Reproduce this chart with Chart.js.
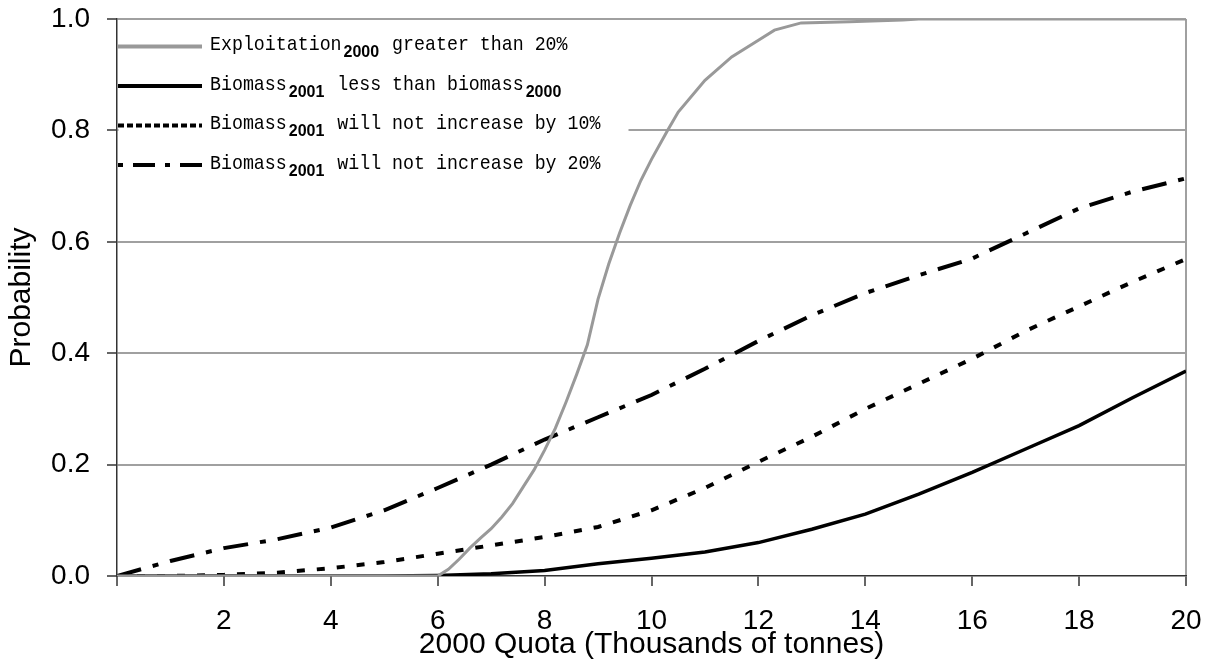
<!DOCTYPE html>
<html><head><meta charset="utf-8">
<script src="https://cdn.jsdelivr.net/npm/chart.js@4.4.1/dist/chart.umd.min.js"></script>
<style>html,body{margin:0;padding:0;background:#fff;}</style>
</head><body>
<canvas id="c" width="1211" height="665"></canvas>
<script>
// ---- data ----
const exploitX = [0, 6, 6.2, 6.4, 6.6, 6.8, 7.0, 7.2, 7.4, 7.6, 7.8, 8.0, 8.2, 8.4, 8.6, 8.8, 9.0, 9.2, 9.4, 9.6, 9.8, 10.0, 10.3, 10.5, 11.0, 11.5, 12.0, 12.3, 12.8, 13.7, 14.7, 15, 20];
const exploitY = [0, 0, 0.012, 0.03, 0.05, 0.068, 0.085, 0.106, 0.13, 0.16, 0.19, 0.226, 0.265, 0.312, 0.362, 0.415, 0.497, 0.56, 0.615, 0.665, 0.71, 0.748, 0.8, 0.833, 0.89, 0.932, 0.962, 0.98, 0.993, 0.995, 0.998, 1.0, 1.0];
const quota = [0,1,2,3,4,5,6,7,8,9,10,11,12,13,14,15,16,17,18,19,20];
const lessThan2000 = [0, 0, 0, 0, 0, 0, 0.001, 0.004, 0.01, 0.022, 0.032, 0.043, 0.06, 0.084, 0.111, 0.147, 0.186, 0.228, 0.27, 0.32, 0.368];
const noIncrease10 = [0, 0, 0.002, 0.006, 0.014, 0.025, 0.04, 0.055, 0.07, 0.088, 0.118, 0.158, 0.205, 0.25, 0.3, 0.345, 0.39, 0.44, 0.484, 0.528, 0.569];
const noIncrease20 = [0, 0.027, 0.05, 0.066, 0.087, 0.118, 0.158, 0.2, 0.245, 0.285, 0.325, 0.372, 0.422, 0.468, 0.508, 0.54, 0.57, 0.615, 0.66, 0.69, 0.714];
const seriesLabels = [
  "Exploitation_{2000} greater than 20%",
  "Biomass_{2001} less than biomass_{2000}",
  "Biomass_{2001} will not increase by 10%",
  "Biomass_{2001} will not increase by 20%"
];
const xTicks = [2,4,6,8,10,12,14,16,18,20];
const yTicks = [0, 0.2, 0.4, 0.6, 0.8, 1.0];
const xTitle = "2000 Quota (Thousands of tonnes)";
const yTitle = "Probability";

const pts = (xs, ys) => xs.map((x, i) => ({x: x, y: ys[i]}));
const plain = s => s.replace(/_\{([^}]*)\}/g, '$1');

const styles = [
  {color: '#999999', width: 3, dash: [], legendDash: [], legendWidth: 4},
  {color: '#000000', width: 3.5, dash: [], legendDash: [], legendWidth: 4},
  {color: '#000000', width: 4, dash: [8, 12], legendDash: [6, 3], legendWidth: 4},
  {color: '#000000', width: 4, dash: [25, 12, 6, 12], legendDash: [22, 10, 5, 10], legendDashOffset: 32, legendWidth: 4}
];
const seriesData = [pts(exploitX, exploitY), pts(quota, lessThan2000), pts(quota, noIncrease10), pts(quota, noIncrease20)];

const insetLegend = {
  id: 'insetLegend',
  beforeDatasetsDraw(chart) {
    const ctx = chart.ctx;
    const area = chart.chartArea;
    ctx.save();
    ctx.fillStyle = '#ffffff';
    ctx.fillRect(area.left + 1.5, area.top + 2, 510, 165);
    seriesLabels.forEach((lab, i) => {
      const st = styles[i];
      const y = 46.5 + i * 39.5;
      ctx.beginPath();
      ctx.strokeStyle = st.color;
      ctx.lineWidth = st.legendWidth;
      ctx.lineCap = 'butt';
      ctx.setLineDash(st.legendDash);
      ctx.lineDashOffset = st.legendDashOffset || 0;
      ctx.moveTo(area.left + 1, y);
      ctx.lineTo(202, y);
      ctx.stroke();
      ctx.setLineDash([]);
      const parts = lab.split(/(_\{[^}]*\})/).filter(p => p.length);
      let x = 210;
      const base = y + 3.5;
      ctx.fillStyle = '#000';
      ctx.textBaseline = 'alphabetic';
      ctx.textAlign = 'left';
      parts.forEach(p => {
        if (p.startsWith('_{')) {
          const t = p.slice(2, -1);
          ctx.font = 'bold 16px "Liberation Sans", Arial, sans-serif';
          ctx.fillText(t, x + 2, base + 7);
          x += ctx.measureText(t).width + 4;
        } else {
          ctx.font = '21px "Liberation Mono", "DejaVu Sans Mono", monospace';
          ctx.save();
          ctx.translate(x, base);
          ctx.scale(0.87, 1);
          ctx.fillText(p, 0, 0);
          ctx.restore();
          x += ctx.measureText(p).width * 0.87;
        }
      });
    });
    ctx.restore();
  }
};

const zeroPad = s => { s.paddingTop = 0; s.paddingBottom = 0; s.paddingLeft = 0; s.paddingRight = 0; };

new Chart(document.getElementById('c'), {
  type: 'line',
  data: {
    datasets: seriesData.map((d, i) => ({
      label: plain(seriesLabels[i]),
      data: d,
      borderColor: styles[i].color,
      borderWidth: styles[i].width,
      borderDash: styles[i].dash,
      borderCapStyle: 'butt',
      pointRadius: 0,
      tension: 0,
      fill: false
    }))
  },
  options: {
    responsive: false,
    animation: false,
    devicePixelRatio: 1,
    layout: {padding: {top: 19, right: 25, left: 0, bottom: 0}},
    plugins: {legend: {display: false}, tooltip: {enabled: false}},
    scales: {
      x: {
        type: 'linear', min: 0, max: 20,
        afterBuildTicks: s => { s.ticks = [0].concat(xTicks).map(v => ({value: v})); },
        afterFit: s => { s.height = 89; zeroPad(s); },
        ticks: {
          callback: v => (xTicks.includes(v) ? String(v) : ''),
          font: {family: '"Liberation Sans", Arial, sans-serif', size: 28},
          color: '#000', padding: 18, maxRotation: 0, autoSkip: false
        },
        grid: {
          drawOnChartArea: true,
          color: c => (c.tick && c.tick.value === 20 ? '#a0a0a0' : 'rgba(0,0,0,0)'),
          lineWidth: 2, tickColor: '#333', tickWidth: 1.5, tickLength: 10
        },
        border: {color: '#333', width: 1.5},
        title: {display: true, text: xTitle, color: '#000',
          font: {family: '"Liberation Sans", Arial, sans-serif', size: 30},
          padding: {top: 0, bottom: 2}}
      },
      y: {
        type: 'linear', min: 0, max: 1,
        afterBuildTicks: s => { s.ticks = yTicks.map(v => ({value: v})); },
        afterFit: s => { s.width = 117; zeroPad(s); },
        ticks: {
          callback: v => Number(v).toFixed(1),
          font: {family: '"Liberation Sans", Arial, sans-serif', size: 28},
          color: '#000', padding: 17
        },
        grid: {
          color: c => (c.tick && c.tick.value === 0 ? 'rgba(0,0,0,0)' : '#a0a0a0'),
          lineWidth: 2, tickColor: '#333', tickWidth: 1.5, tickLength: 10
        },
        border: {color: '#333', width: 1.5},
        title: {display: true, text: yTitle, color: '#000',
          font: {family: '"Liberation Sans", Arial, sans-serif', size: 30},
          padding: {top: 4, bottom: 0}}
      }
    }
  },
  plugins: [insetLegend]
});
</script>
</body></html>
